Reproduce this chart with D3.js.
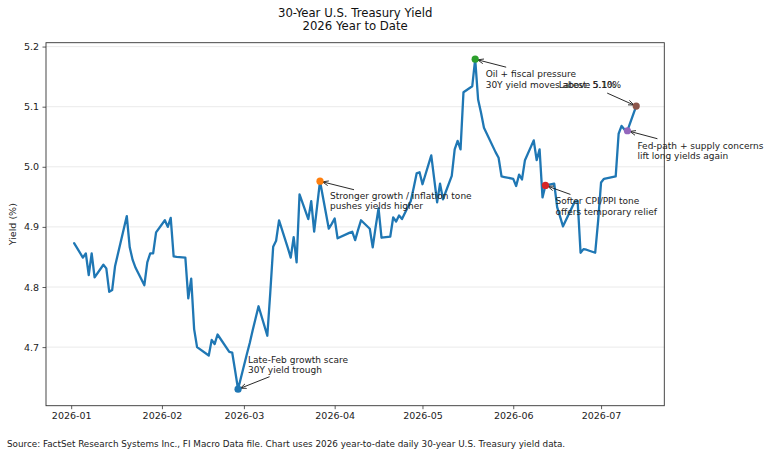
<!DOCTYPE html>
<html>
<head>
<meta charset="utf-8">
<script src="https://cdn.jsdelivr.net/npm/d3@7"></script>
<style>
  body { margin: 0; background: #fff; }
  svg { display: block; font-family: "DejaVu Sans", sans-serif; }
</style>
</head>
<body>
<svg id="chart" width="768" height="456"></svg>
<script>
// daily 30Y yield, 2026 ytd
var dates = [
  "2026-01-02","2026-01-05","2026-01-06","2026-01-07","2026-01-08","2026-01-09",
  "2026-01-12","2026-01-13","2026-01-14","2026-01-15","2026-01-16",
  "2026-01-20","2026-01-21","2026-01-22","2026-01-23",
  "2026-01-26","2026-01-27","2026-01-28","2026-01-29","2026-01-30",
  "2026-02-02","2026-02-03","2026-02-04","2026-02-05","2026-02-06",
  "2026-02-09","2026-02-10","2026-02-11","2026-02-12","2026-02-13",
  "2026-02-17","2026-02-18","2026-02-19","2026-02-20",
  "2026-02-24","2026-02-25","2026-02-26","2026-02-27",
  "2026-03-02","2026-03-03","2026-03-04","2026-03-05","2026-03-06",
  "2026-03-09","2026-03-10","2026-03-11","2026-03-12","2026-03-13",
  "2026-03-16","2026-03-17","2026-03-18","2026-03-19","2026-03-20",
  "2026-03-23","2026-03-24","2026-03-25","2026-03-26","2026-03-27",
  "2026-03-30","2026-03-31","2026-04-01","2026-04-02",
  "2026-04-06","2026-04-07","2026-04-08","2026-04-09","2026-04-10",
  "2026-04-13","2026-04-14","2026-04-15","2026-04-16","2026-04-17",
  "2026-04-20","2026-04-21","2026-04-22","2026-04-23","2026-04-24",
  "2026-04-27","2026-04-28","2026-04-29","2026-04-30","2026-05-01",
  "2026-05-04","2026-05-05","2026-05-06","2026-05-07","2026-05-08",
  "2026-05-11","2026-05-12","2026-05-13","2026-05-14","2026-05-15",
  "2026-05-18","2026-05-19","2026-05-20","2026-05-21","2026-05-22",
  "2026-05-26","2026-05-27","2026-05-28","2026-05-29",
  "2026-06-01","2026-06-02","2026-06-03","2026-06-04","2026-06-05",
  "2026-06-08","2026-06-09","2026-06-10","2026-06-11","2026-06-12",
  "2026-06-15","2026-06-16","2026-06-17","2026-06-18",
  "2026-06-22","2026-06-23","2026-06-24","2026-06-25","2026-06-26",
  "2026-06-29","2026-06-30","2026-07-01","2026-07-02",
  "2026-07-06","2026-07-07","2026-07-08","2026-07-09","2026-07-10",
  "2026-07-13"
];

var yields = [
  4.873,4.849,4.856,4.820,4.856,4.816,
  4.837,4.831,4.792,4.795,4.835,
  4.918,4.866,4.845,4.832,
  4.803,4.841,4.856,4.856,4.891,
  4.911,4.900,4.915,4.851,4.850,
  4.849,4.781,4.814,4.730,4.700,
  4.686,4.712,4.705,4.721,
  4.692,4.691,4.661,4.630,
  4.688,4.707,4.728,4.748,4.768,
  4.719,4.790,4.867,4.877,4.911,
  4.865,4.849,4.883,4.841,4.954,
  4.913,4.943,4.892,4.934,4.976,
  4.897,4.905,4.914,4.881,
  4.890,4.892,4.878,4.895,4.911,
  4.897,4.866,4.900,4.931,4.882,
  4.884,4.916,4.909,4.919,4.913,
  4.943,4.965,4.989,4.991,4.971,
  5.019,4.980,4.941,4.972,4.946,
  4.985,5.029,5.043,5.029,5.124,
  5.134,5.179,5.112,5.090,5.065,
  5.024,5.015,4.984,4.983,
  4.980,4.968,4.987,4.979,5.011,
  5.044,5.011,5.029,4.949,4.969,
  4.972,4.933,4.917,4.901,
  4.942,4.943,4.857,4.863,4.862,
  4.857,4.910,4.974,4.980,
  4.984,5.055,5.068,5.062,5.060,
  5.101
];

// annotated points
var noteDates = ["2026-02-27","2026-03-27","2026-05-19","2026-06-12","2026-07-10","2026-07-13"];
var noteTexts = [
  ["Late-Feb growth scare","30Y yield trough"],
  ["Stronger growth / inflation tone","pushes yields higher"],
  ["Oil + fiscal pressure","30Y yield moves above 5.1%"],
  ["Softer CPI/PPI tone","offers temporary relief"],
  ["Fed-path + supply concerns","lift long yields again"],
  ["Latest: 5.10%"]
];
var noteColors = ["#1f77b4","#ff7f0e","#2ca02c","#d62728","#9467bd","#8c564b"];

// text / arrow-tail offsets in px from the marked point
var noteLayout = [
  {tx: 10, ty: -26.5, ax: 31.5, ay: -12.5},
  {tx: 10, ty: 17.5, ax: 34, ay: 8.5},
  {tx: 10.5, ty: 18, ax: 31, ay: 8},
  {tx: 10, ty: 19, ax: 25, ay: 9},
  {tx: 10, ty: 18, ax: 30, ay: 8},
  {tx: -77.5, ty: -18.5, ax: -29, ay: -13}
];

var W = 768, H = 456;
var mLeft = 46, mTop = 42.7, mRight = 664.3, mBottom = 405.7;

var parse = d3.utcParse("%Y-%m-%d");

var data = dates.map(function(d, i){ return {date: parse(d), value: yields[i]}; });

var go = function(){

    var svg = d3.select("#chart");

    // matplotlib style 5% margins
    var xe = d3.extent(data, function(d){ return +d.date; });
    var xp = (xe[1] - xe[0]) * 0.05;
    var ye = d3.extent(data, function(d){ return d.value; });
    var yp = (ye[1] - ye[0]) * 0.05;

    var x = d3.scaleUtc()
	.domain([new Date(xe[0] - xp), new Date(xe[1] + xp)])
	.range([mLeft, mRight]);

    var y = d3.scaleLinear()
	.domain([ye[0] - yp, ye[1] + yp])
	.range([mBottom, mTop]);

    var yTicks = [4.7, 4.8, 4.9, 5.0, 5.1, 5.2];

    // grid
    svg.append("g").selectAll("line")
	.data(yTicks)
	.enter().append("line")
	.attr("x1", mLeft).attr("x2", mRight)
	.attr("y1", function(d){ return y(d); })
	.attr("y2", function(d){ return y(d); })
	.attr("stroke", "#e8e8e8")
	.attr("stroke-width", 0.9);

    // axes
    var xAxis = d3.axisBottom(x)
	.ticks(d3.utcMonth.every(1))
	.tickFormat(d3.utcFormat("%Y-%m"))
	.tickSize(3.5).tickPadding(3.5);

    var yAxis = d3.axisLeft(y)
	.tickValues(yTicks)
	.tickFormat(d3.format(".1f"))
	.tickSize(3.5).tickPadding(3.5);

    var gx = svg.append("g").attr("transform", "translate(0," + mBottom + ")").call(xAxis);
    var gy = svg.append("g").attr("transform", "translate(" + mLeft + ",0)").call(yAxis);

    [gx, gy].forEach(function(g){
	g.select(".domain").remove();
	g.selectAll("line").attr("stroke", "#333").attr("stroke-width", 0.8);
	g.selectAll("text")
	    .attr("fill", "#222")
	    .style("font-size", "9.5px")
	    .style("font-family", "DejaVu Sans, sans-serif");
    });

    // frame
    svg.append("rect")
	.attr("x", mLeft).attr("y", mTop)
	.attr("width", mRight - mLeft).attr("height", mBottom - mTop)
	.attr("fill", "none")
	.attr("stroke", "#333")
	.attr("stroke-width", 0.9);

    // line
    var line = d3.line()
	.x(function(d){ return x(d.date); })
	.y(function(d){ return y(d.value); });

    svg.append("path")
	.datum(data)
	.attr("d", line)
	.attr("fill", "none")
	.attr("stroke", "#1f77b4")
	.attr("stroke-width", 2.3)
	.attr("stroke-linejoin", "round")
	.attr("stroke-linecap", "round");

    // arrow head
    svg.append("defs").append("marker")
	.attr("id", "head")
	.attr("viewBox", "0 -5 10 10")
	.attr("refX", 10).attr("refY", 0)
	.attr("markerWidth", 6).attr("markerHeight", 6)
	.attr("markerUnits", "userSpaceOnUse")
	.attr("orient", "auto")
	.append("path")
	.attr("d", "M0,-4L10,0L0,4")
	.attr("fill", "none")
	.attr("stroke", "#111")
	.attr("stroke-width", 1.3);

    // annotations
    noteDates.forEach(function(nd, i){
	var idx = dates.indexOf(nd);
	var px = x(data[idx].date), py = y(data[idx].value);
	var L = noteLayout[i];

	// arrow from tail to point, stopping short of the dot
	var tx = px + L.ax, ty = py + L.ay;
	var dx = px - tx, dy = py - ty, len = Math.sqrt(dx*dx + dy*dy);
	var shrink = 2.5;
	svg.append("line")
	    .attr("x1", tx).attr("y1", ty)
	    .attr("x2", px - dx/len*shrink).attr("y2", py - dy/len*shrink)
	    .attr("stroke", "#111")
	    .attr("stroke-width", 0.9)
	    .attr("marker-end", "url(#head)");

	svg.append("circle")
	    .attr("cx", px).attr("cy", py).attr("r", 3.6)
	    .attr("fill", noteColors[i]);

	var t = svg.append("text")
	    .attr("x", px + L.tx).attr("y", py + L.ty)
	    .attr("fill", "#222")
	    .style("font-size", "9px");
	noteTexts[i].forEach(function(s, j){
	    t.append("tspan")
		.attr("x", px + L.tx)
		.attr("dy", j == 0 ? 0 : 10.3)
		.text(s);
	});
    });

    // titles
    var cx = (mLeft + mRight) / 2;
    svg.append("text").attr("x", cx).attr("y", 17)
	.attr("text-anchor", "middle").attr("fill", "#111")
	.style("font-size", "11.7px")
	.text("30-Year U.S. Treasury Yield");
    svg.append("text").attr("x", cx).attr("y", 29.6)
	.attr("text-anchor", "middle").attr("fill", "#111")
	.style("font-size", "11.7px")
	.text("2026 Year to Date");

    svg.append("text")
	.attr("transform", "translate(16," + ((mTop + mBottom) / 2) + ") rotate(-90)")
	.attr("text-anchor", "middle").attr("fill", "#222")
	.style("font-size", "9.5px")
	.text("Yield (%)");

    svg.append("text").attr("x", 7).attr("y", 447)
	.attr("fill", "#222")
	.style("font-size", "8.8px")
	.text("Source: FactSet Research Systems Inc., FI Macro Data file. Chart uses 2026 year-to-date daily 30-year U.S. Treasury yield data.");
}

go();
</script>
</body>
</html>
